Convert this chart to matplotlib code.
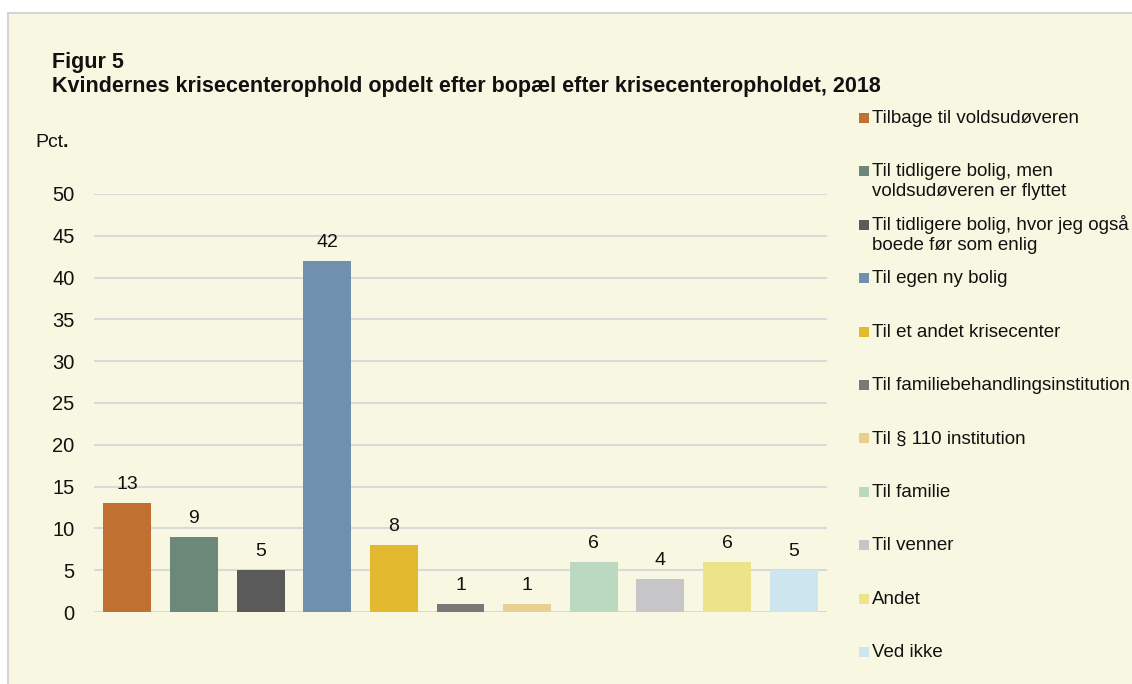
import matplotlib.pyplot as plt
from matplotlib.patches import Rectangle

plt.rcParams['font.family'] = ['Liberation Sans', 'DejaVu Sans']

# data
labels = ["Tilbage til voldsudøveren",
          "Til tidligere bolig, men\nvoldsudøveren er flyttet",
          "Til tidligere bolig, hvor jeg også\nboede før som enlig",
          "Til egen ny bolig",
          "Til et andet krisecenter",
          "Til familiebehandlingsinstitution",
          "Til § 110 institution",
          "Til familie",
          "Til venner",
          "Andet",
          "Ved ikke"]
values = [13, 9, 5, 42, 8, 1, 1, 6, 4, 6, 5]
colors = ["#C07030", "#6B8878", "#5A5A5A", "#7090B0", "#E3B930", "#7B7677",
          "#E8D090", "#BBD9C0", "#C6C6C8", "#EDE38A", "#CDE5EE"]
yticks = [0, 5, 10, 15, 20, 25, 30, 35, 40, 45, 50]

bg = "#F8F8E2"
ink = "#111111"
W, H = 1132, 684
fig = plt.figure(figsize=(W / 100, H / 100), dpi=100)
fig.patch.set_facecolor("white")

# framed panel
fig.patches.append(Rectangle((8 / W, -0.05), 1.1, (H - 13) / H + 0.05,
                             transform=fig.transFigure, facecolor=bg,
                             edgecolor="#D4D4D4", linewidth=1.5, zorder=-5))

ax = fig.add_axes([94 / W, (H - 612) / H, (827 - 94) / W, (612 - 194) / H])
ax.patch.set_alpha(0)
x = range(len(values))
ax.bar(x, values, width=0.72, color=colors, zorder=3)
for xi, v in zip(x, values):
    ax.annotate(str(v), (xi, v), xytext=(0, 10), textcoords="offset points",
                ha="center", va="baseline", fontsize=14, color=ink)

ax.set_xlim(-0.5, len(values) - 0.5)
ax.set_ylim(0, 50)
ax.set_yticks(yticks)
ax.set_xticks([])
ax.grid(axis="y", color="#D9D9D9", linewidth=1.5, zorder=0)
for s in ax.spines.values():
    s.set_visible(False)
ax.tick_params(axis="y", length=0, labelsize=14.5, pad=14, labelcolor=ink)

# titles
fig.text(52 / W, 1 - 68 / H, "Figur 5", fontsize=15.5, fontweight="bold",
         va="baseline", ha="left", color=ink)
fig.text(52 / W, 1 - 92 / H,
         "Kvindernes krisecenterophold opdelt efter bopæl efter krisecenteropholdet, 2018",
         fontsize=15.5, fontweight="bold", va="baseline", ha="left", color=ink)
t = fig.text(35 / W, 1 - 147 / H, "Pct", fontsize=14, va="baseline", ha="left",
             color=ink)
fig.canvas.draw()
bb = t.get_window_extent()
fig.text(bb.x1 / W, 1 - 147 / H, ".", fontsize=14, fontweight="bold",
         va="baseline", ha="left", color=ink)

# legend, drawn by hand
step = 53.4
for i, (lab, c) in enumerate(zip(labels, colors)):
    base = 123 + i * step
    fig.patches.append(Rectangle((859 / W, 1 - base / H), 10 / W, 10 / H,
                                 transform=fig.transFigure, facecolor=c,
                                 edgecolor="none"))
    for j, line in enumerate(lab.split("\n")):
        fig.text(872 / W, 1 - (base + 20 * j) / H, line, fontsize=13.5,
                 va="baseline", ha="left", color=ink)

fig.savefig("out.png", dpi=100, facecolor="white")
